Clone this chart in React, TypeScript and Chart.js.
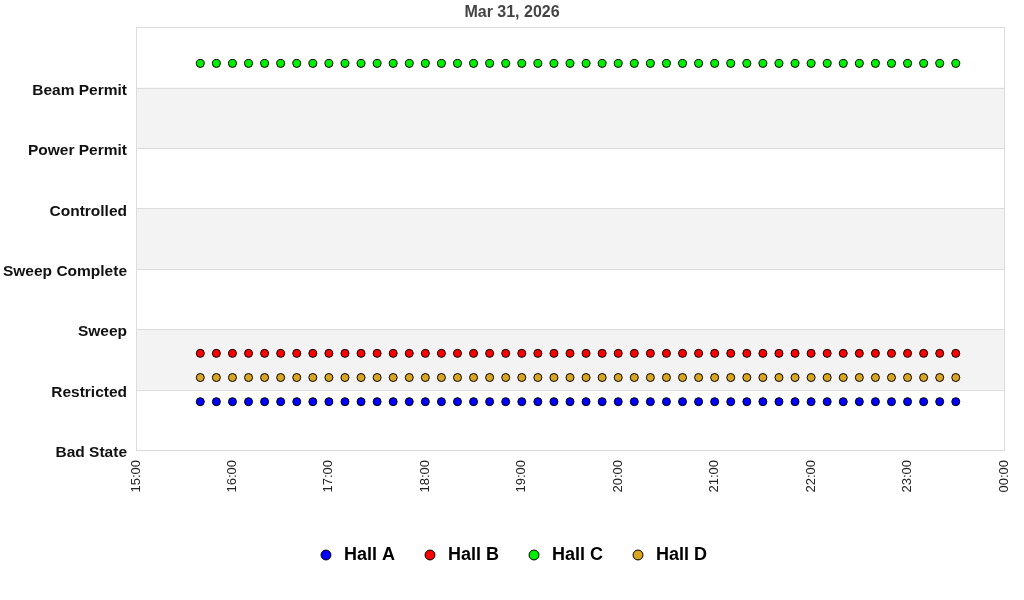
import React, { useRef, useEffect } from "react";
import { Chart, registerables } from "chart.js";

Chart.register(...registerables);

const stateLabels = [
  "Bad State",
  "Restricted",
  "Sweep",
  "Sweep Complete",
  "Controlled",
  "Power Permit",
  "Beam Permit",
];

const times = [
  "15:40", "15:50", "16:00", "16:10", "16:20", "16:30", "16:40", "16:50",
  "17:00", "17:10", "17:20", "17:30", "17:40", "17:50", "18:00", "18:10",
  "18:20", "18:30", "18:40", "18:50", "19:00", "19:10", "19:20", "19:30",
  "19:40", "19:50", "20:00", "20:10", "20:20", "20:30", "20:40", "20:50",
  "21:00", "21:10", "21:20", "21:30", "21:40", "21:50", "22:00", "22:10",
  "22:20", "22:30", "22:40", "22:50", "23:00", "23:10", "23:20", "23:30",
];

const hallA = [
  0.8, 0.8, 0.8, 0.8, 0.8, 0.8, 0.8, 0.8, 0.8, 0.8, 0.8, 0.8, 0.8, 0.8, 0.8, 0.8,
  0.8, 0.8, 0.8, 0.8, 0.8, 0.8, 0.8, 0.8, 0.8, 0.8, 0.8, 0.8, 0.8, 0.8, 0.8, 0.8,
  0.8, 0.8, 0.8, 0.8, 0.8, 0.8, 0.8, 0.8, 0.8, 0.8, 0.8, 0.8, 0.8, 0.8, 0.8, 0.8,
];
const hallB = [
  1.6, 1.6, 1.6, 1.6, 1.6, 1.6, 1.6, 1.6, 1.6, 1.6, 1.6, 1.6, 1.6, 1.6, 1.6, 1.6,
  1.6, 1.6, 1.6, 1.6, 1.6, 1.6, 1.6, 1.6, 1.6, 1.6, 1.6, 1.6, 1.6, 1.6, 1.6, 1.6,
  1.6, 1.6, 1.6, 1.6, 1.6, 1.6, 1.6, 1.6, 1.6, 1.6, 1.6, 1.6, 1.6, 1.6, 1.6, 1.6,
];
const hallC = [
  6.4, 6.4, 6.4, 6.4, 6.4, 6.4, 6.4, 6.4, 6.4, 6.4, 6.4, 6.4, 6.4, 6.4, 6.4, 6.4,
  6.4, 6.4, 6.4, 6.4, 6.4, 6.4, 6.4, 6.4, 6.4, 6.4, 6.4, 6.4, 6.4, 6.4, 6.4, 6.4,
  6.4, 6.4, 6.4, 6.4, 6.4, 6.4, 6.4, 6.4, 6.4, 6.4, 6.4, 6.4, 6.4, 6.4, 6.4, 6.4,
];
const hallD = [
  1.2, 1.2, 1.2, 1.2, 1.2, 1.2, 1.2, 1.2, 1.2, 1.2, 1.2, 1.2, 1.2, 1.2, 1.2, 1.2,
  1.2, 1.2, 1.2, 1.2, 1.2, 1.2, 1.2, 1.2, 1.2, 1.2, 1.2, 1.2, 1.2, 1.2, 1.2, 1.2,
  1.2, 1.2, 1.2, 1.2, 1.2, 1.2, 1.2, 1.2, 1.2, 1.2, 1.2, 1.2, 1.2, 1.2, 1.2, 1.2,
];

const FONT = "'Liberation Sans', Arial, Helvetica, sans-serif";

// "HH:MM" -> hours since midnight
const toHours = (t: string) => {
  const [h, m] = t.split(":").map(Number);
  return h + m / 60;
};

const series = (values: number[]) =>
  values.map((y, i) => ({ x: toHours(times[i]), y }));

// alternating grey bands + border box
const bandsPlugin = {
  id: "bands",
  beforeDatasetsDraw(chart: any) {
    const { ctx, chartArea, scales } = chart;
    const y = scales.y;
    ctx.save();
    ctx.fillStyle = "#f3f3f3";
    for (let v = 1; v < stateLabels.length; v += 2) {
      const top = y.getPixelForValue(v + 1);
      const bottom = y.getPixelForValue(v);
      ctx.fillRect(chartArea.left, top, chartArea.right - chartArea.left, bottom - top);
    }
    ctx.strokeStyle = "#dcdcdc";
    ctx.lineWidth = 1;
    for (let v = 0; v < stateLabels.length; v++) {
      const py = Math.round(y.getPixelForValue(v)) + 0.5;
      ctx.beginPath();
      ctx.moveTo(chartArea.left, py);
      ctx.lineTo(chartArea.right, py);
      ctx.stroke();
    }
    ctx.strokeRect(
      Math.round(chartArea.left) + 0.5,
      Math.round(chartArea.top) + 0.5,
      Math.round(chartArea.right - chartArea.left),
      Math.round(chartArea.bottom - chartArea.top)
    );
    ctx.restore();
  },
};

const StatusChart: React.FC = () => {
  const chartRef = useRef<HTMLCanvasElement | null>(null);
  const chartInstanceRef = useRef<Chart | null>(null);

  useEffect(() => {
    if (!chartRef.current) return;
    const ctx = chartRef.current.getContext("2d");
    if (!ctx) return;

    const point = (color: string) => ({
      backgroundColor: color,
      borderColor: "#000000",
      borderWidth: 1,
      pointRadius: 4,
      pointHoverRadius: 4,
      pointBorderWidth: 1,
      showLine: false,
    });

    chartInstanceRef.current = new Chart(ctx, {
      type: "scatter",
      data: {
        datasets: [
          { label: "Hall A", data: series(hallA), ...point("#0000ff") },
          { label: "Hall B", data: series(hallB), ...point("#ff0000") },
          { label: "Hall C", data: series(hallC), ...point("#00ee00") },
          { label: "Hall D", data: series(hallD), ...point("#daa520") },
        ],
      },
      options: {
        animation: false,
        responsive: false,
        maintainAspectRatio: false,
        layout: { padding: { left: 0, right: 0, top: 0, bottom: 26 } },
        scales: {
          x: {
            type: "linear",
            min: 15,
            max: 24,
            border: { display: false },
            grid: { display: false },
            afterFit: (scale: any) => {
              scale.height = 70;
            },
            ticks: {
              stepSize: 1,
              autoSkip: false,
              maxRotation: 90,
              minRotation: 90,
              padding: 2,
              color: "#222222",
              font: { family: FONT, size: 13 },
              callback: (v: any) => {
                const h = Number(v) % 24;
                return (h < 10 ? "0" : "") + h + ":00";
              },
            },
          },
          y: {
            min: 0,
            max: 7,
            border: { display: false },
            grid: { display: false },
            afterFit: (scale: any) => {
              scale.width = 136;
            },
            ticks: {
              stepSize: 1,
              padding: 1,
              labelOffset: 3,
              color: "#111111",
              font: { family: FONT, size: 15.5, weight: "bold" },
              callback: (v: any) => stateLabels[Number(v)] ?? null,
            },
          },
          // empty spacer on the right so the title stays centred on the canvas
          yRight: {
            position: "right",
            display: true,
            border: { display: false },
            grid: { display: false },
            ticks: { display: false },
            afterFit: (scale: any) => {
              scale.width = 20;
            },
          },
        },
        plugins: {
          title: {
            display: true,
            text: "Mar 31, 2026",
            color: "#444444",
            font: { family: FONT, size: 16, weight: "bold" },
            padding: { top: 3, bottom: 5 },
          },
          legend: {
            position: "bottom",
            labels: {
              usePointStyle: true,
              pointStyle: "circle",
              boxWidth: 18,
              boxHeight: 7,
              padding: 26,
              color: "#000000",
              font: { family: FONT, size: 18, weight: "bold" },
            },
          },
          tooltip: { enabled: false },
        },
      },
      plugins: [bandsPlugin],
    });

    return () => {
      if (chartInstanceRef.current) {
        chartInstanceRef.current.destroy();
        chartInstanceRef.current = null;
      }
    };
  }, []);

  return <canvas ref={chartRef} width={1024} height={600} />;
};

export default function App() {
  return (
    <div style={{ position: "absolute", left: 0, top: 0, width: 1024, height: 600, background: "#fff" }}>
      <StatusChart />
    </div>
  );
}
